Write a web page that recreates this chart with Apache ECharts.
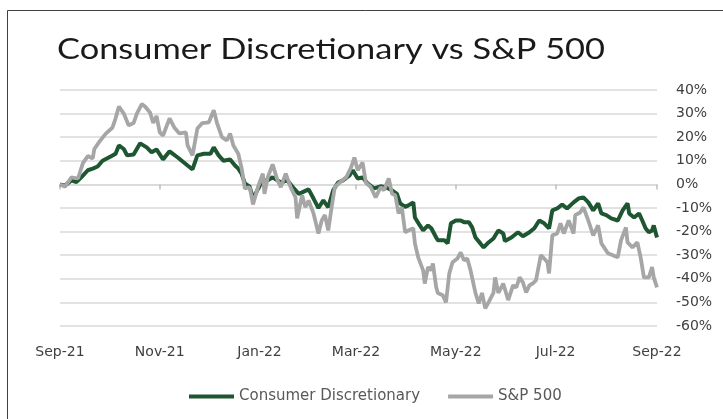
<!DOCTYPE html>
<html>
<head>
<meta charset="utf-8">
<title>Consumer Discretionary vs S&amp;P 500</title>
<script src="https://cdn.jsdelivr.net/npm/echarts@6/dist/echarts.min.js"></script>
<style>
html,body{margin:0;padding:0;background:#fff;}
#chart{width:723px;height:419px;}
</style>
</head>
<body>
<div id="chart"></div>
<script>
// values, % change since Sep-21
const cdDates = [
  '2021-09-01','2021-09-04','2021-09-08','2021-09-11','2021-09-14','2021-09-18','2021-09-21','2021-09-24','2021-09-27',
  '2021-10-02','2021-10-05','2021-10-07','2021-10-10','2021-10-12','2021-10-16','2021-10-20','2021-10-24','2021-10-27','2021-10-30',
  '2021-11-03','2021-11-07','2021-11-12','2021-11-15','2021-11-18','2021-11-21','2021-11-24','2021-11-28',
  '2021-12-02','2021-12-04','2021-12-07','2021-12-10','2021-12-14','2021-12-17','2021-12-19','2021-12-21','2021-12-23','2021-12-26','2021-12-28','2021-12-31',
  '2022-01-03','2022-01-06','2022-01-09','2022-01-14','2022-01-18','2022-01-22','2022-01-25','2022-01-27','2022-01-31',
  '2022-02-03','2022-02-06','2022-02-09','2022-02-12','2022-02-15','2022-02-18','2022-02-21','2022-02-25','2022-02-27',
  '2022-03-02','2022-03-05','2022-03-08','2022-03-12','2022-03-16','2022-03-19','2022-03-23','2022-03-26','2022-03-28','2022-03-31',
  '2022-04-02','2022-04-05','2022-04-06','2022-04-09','2022-04-11','2022-04-14','2022-04-16','2022-04-19','2022-04-20','2022-04-24','2022-04-26','2022-04-28',
  '2022-05-01','2022-05-04','2022-05-06','2022-05-09','2022-05-11','2022-05-13','2022-05-16','2022-05-18','2022-05-21','2022-05-24','2022-05-27','2022-05-30','2022-05-31',
  '2022-06-04','2022-06-08','2022-06-11','2022-06-15','2022-06-18','2022-06-21','2022-06-24','2022-06-27','2022-06-29',
  '2022-07-02','2022-07-05','2022-07-08','2022-07-12','2022-07-15','2022-07-18','2022-07-21','2022-07-24','2022-07-27','2022-07-29',
  '2022-08-01','2022-08-04','2022-08-08','2022-08-11','2022-08-14','2022-08-15','2022-08-18','2022-08-21','2022-08-23','2022-08-25','2022-08-27','2022-08-29','2022-08-30','2022-09-01'
];
const cdValues = [
  0, -0.5, 1.7, 1, 3, 6, 6.7, 7.6, 10,
  11.8, 13, 16.5, 15, 12.3, 12.7, 17.4, 15.7, 13.6, 14.8,
  10.6, 14, 11.4, 9.7, 8, 6.4, 12.3, 13,
  13, 15.7, 12.3, 10, 10.6, 8, 6.7, 4.6, 0.4, -1, -6, -2,
  1.7, 1.7, 3, 0.8, 1.7, -1.7, -4, -3.4, -2.1,
  -6, -10, -6.8, -9.7, -2.5, 0.8, 1.7, 3.8, 6,
  2.5, 3, 0.4, -1.7, -0.8, -1.2, -2.5, -4, -8, -9.5,
  -8.9, -7.6, -14, -17.4, -19.5, -17.4, -18.6, -22.5, -23.7, -23.7, -25, -16.5,
  -15.3, -15.3, -16, -16, -18.2, -22.5, -25, -26.7, -24.6, -22.9, -19.5, -20.8, -24,
  -22.5, -20.3, -22, -20.3, -18.6, -15.3, -16.5, -18.6, -11,
  -10.2, -8.5, -10.2, -7.6, -6, -5.5, -7.6, -11, -8, -12.3,
  -13, -14.4, -15.3, -11, -8, -12.3, -14, -12.3, -15.3, -18.6, -20.3, -19.5, -17.4, -22.5
];
const spDates = [
  '2021-09-01','2021-09-04','2021-09-08','2021-09-12','2021-09-15','2021-09-18','2021-09-21','2021-09-22','2021-09-25','2021-09-29',
  '2021-10-03','2021-10-05','2021-10-07','2021-10-10','2021-10-13','2021-10-16','2021-10-18','2021-10-21','2021-10-23','2021-10-26','2021-10-28','2021-10-30',
  '2021-11-01','2021-11-03','2021-11-07','2021-11-10','2021-11-13','2021-11-17','2021-11-18','2021-11-21','2021-11-24','2021-11-27',
  '2021-12-01','2021-12-04','2021-12-06','2021-12-09','2021-12-12','2021-12-14','2021-12-16','2021-12-19','2021-12-21','2021-12-23','2021-12-26','2021-12-28','2021-12-31',
  '2022-01-03','2022-01-04','2022-01-06','2022-01-09','2022-01-12','2022-01-14','2022-01-17','2022-01-20','2022-01-23','2022-01-24','2022-01-27','2022-01-29','2022-01-31',
  '2022-02-03','2022-02-06','2022-02-08','2022-02-10','2022-02-12','2022-02-14','2022-02-16','2022-02-19','2022-02-23','2022-02-26','2022-02-28',
  '2022-03-02','2022-03-05','2022-03-07','2022-03-10','2022-03-13','2022-03-16','2022-03-18','2022-03-21','2022-03-23','2022-03-25','2022-03-27','2022-03-29','2022-03-31',
  '2022-04-02','2022-04-05','2022-04-06','2022-04-08','2022-04-11','2022-04-12','2022-04-14','2022-04-16','2022-04-17','2022-04-19','2022-04-20','2022-04-23','2022-04-25','2022-04-27','2022-04-29',
  '2022-05-02','2022-05-04','2022-05-06','2022-05-08','2022-05-10','2022-05-13','2022-05-15','2022-05-17','2022-05-19','2022-05-21','2022-05-24','2022-05-25','2022-05-27','2022-05-30',
  '2022-06-02','2022-06-05','2022-06-07','2022-06-09','2022-06-11','2022-06-13','2022-06-15','2022-06-17','2022-06-19','2022-06-22','2022-06-24','2022-06-26','2022-06-27','2022-06-29',
  '2022-07-02','2022-07-04','2022-07-06','2022-07-09','2022-07-12','2022-07-13','2022-07-16','2022-07-18','2022-07-21','2022-07-24','2022-07-27','2022-07-29','2022-07-30',
  '2022-08-02','2022-08-05','2022-08-08','2022-08-10','2022-08-13','2022-08-14','2022-08-17','2022-08-20','2022-08-22','2022-08-24','2022-08-27','2022-08-29','2022-08-30','2022-09-01'
];
const spValues = [
  0, -1, 3, 2.5, 9, 12, 11, 15, 18, 21.5,
  24, 28, 33, 30, 25, 26, 30, 34, 33, 30.5, 26, 29,
  22, 20.7, 28, 24, 21.6, 22, 16.5, 12.3, 23.7, 26,
  26.3, 31.4, 26, 20, 18.6, 21.6, 16.5, 13, 7, -1.7, -1.2, -8.5, -1.2,
  4.6, -4, 3, 8.5, 1.7, -1.2, 4.6, -1.2, -5.5, -14.4, -4.6, -9.7, -6.8,
  -12.3, -20.8, -15.3, -13, -19.5, -10, -1.2, 0.8, 3, 7.2, 11.4,
  6, 9.3, 0.8, -1.2, -5.5, -1.2, -2.5, 2.5, -4, -4.6, -12.3, -9.7, -20.3,
  -19.5, -18.6, -25, -30.9, -36.4, -42, -35, -36.4, -33.5, -43.6, -46, -47, -50, -37.7, -33,
  -31.4, -28.8, -32.2, -31.4, -36.4, -46, -50.4, -46, -52.5, -50, -46, -39.4, -46, -42,
  -49, -42.8, -43.6, -39.4, -41.5, -45.8, -42.8, -42, -40.7, -30, -31.4, -33, -37.7, -21.6,
  -20.8, -16.5, -20.8, -15.3, -20.8, -13, -11.9, -9.7, -15.3, -21.6, -17.4, -25, -25.8,
  -29.2, -30, -30.9, -23.7, -18.2, -24.6, -26.7, -24.6, -30.9, -39.4, -39.4, -35, -39.4, -43.6
];
const tickDates = ['2021-09-01','2021-11-01','2022-01-01','2022-03-01','2022-05-01','2022-07-01','2022-09-01'];
const tickLabels = ['Sep-21','Nov-21','Jan-22','Mar-22','May-22','Jul-22','Sep-22'];
const titleText = 'Consumer Discretionary vs S&P 500'

function toTime(s){
  let p = s.split('-')
  return new Date(+p[0], +p[1] - 1, +p[2]).getTime()
}
function pairs(dates, values){
  return dates.map((d, i) => [toTime(d), values[i]])
}
const tickTimes = tickDates.map(toTime)
const labelFont = 'DejaVu Sans'

// the title in the picture is wide, stretch it to the same width
const titleFont = '28px Lato'
let ctx = document.createElement('canvas').getContext('2d')
ctx.font = titleFont
const titleScale = 548 / ctx.measureText(titleText).width

let chart = echarts.init(document.getElementById('chart'))
chart.setOption({
  animation: false,
  backgroundColor: '#fff',
  grid: {left: 60, right: 66, top: 90, bottom: 93},
  graphic: [
    {
      type: 'rect', silent: true, z: -10,
      shape: {x: 7.5, y: 10.5, width: 800, height: 500},
      style: {fill: null, stroke: '#404040', lineWidth: 1}
    },
    {
      type: 'text', x: 57, y: 50, scaleX: titleScale,
      style: {
        text: titleText,
        font: titleFont,
        fill: '#1a1a1a',
        textVerticalAlign: 'middle'
      }
    }
  ],
  legend: {
    left: 184, top: 384,
    icon: 'rect', itemWidth: 45, itemHeight: 4, itemGap: 28,
    textStyle: {color: '#595959', fontFamily: labelFont, fontSize: 15},
    data: ['Consumer Discretionary', 'S&P 500']
  },
  xAxis: [
    {
      // dates as timestamps on a value axis, labels only on month starts
      type: 'value',
      min: tickTimes[0], max: tickTimes[tickTimes.length - 1],
      axisLine: {show: false, onZero: false},
      axisTick: {show: false},
      splitLine: {show: false},
      axisLabel: {
        customValues: tickTimes,
        formatter: v => tickLabels[tickTimes.indexOf(v)] || '',
        margin: 19, color: '#404040', fontFamily: labelFont, fontSize: 14,
        showMinLabel: true, showMaxLabel: true
      }
    },
    {
      // axis line and ticks sit on the 0% line, labels stay at the bottom
      type: 'value', position: 'top',
      min: tickTimes[0], max: tickTimes[tickTimes.length - 1],
      axisLine: {show: true, onZero: true, lineStyle: {color: '#d9d9d9', width: 1.5}},
      axisTick: {show: true, inside: true, length: 5, customValues: tickTimes, lineStyle: {color: '#bfbfbf', width: 1.5}},
      axisLabel: {show: false},
      splitLine: {show: false}
    }
  ],
  yAxis: {
    type: 'value', position: 'right',
    min: -60, max: 40, interval: 10,
    axisLine: {show: false},
    axisTick: {show: false},
    splitLine: {lineStyle: {color: '#d9d9d9', width: 1.5}},
    axisLabel: {formatter: '{value}%', margin: 19, color: '#404040', fontFamily: labelFont, fontSize: 14}
  },
  series: [
    {
      name: 'Consumer Discretionary', type: 'line',
      data: pairs(cdDates, cdValues),
      symbol: 'none', z: 2,
      itemStyle: {color: '#1e5631'},
      lineStyle: {color: '#1e5631', width: 4}
    },
    {
      name: 'S&P 500', type: 'line',
      data: pairs(spDates, spValues),
      symbol: 'none', z: 3,
      itemStyle: {color: '#a6a6a6'},
      lineStyle: {color: '#a6a6a6', width: 3.8}
    }
  ]
})
</script>
</body>
</html>
